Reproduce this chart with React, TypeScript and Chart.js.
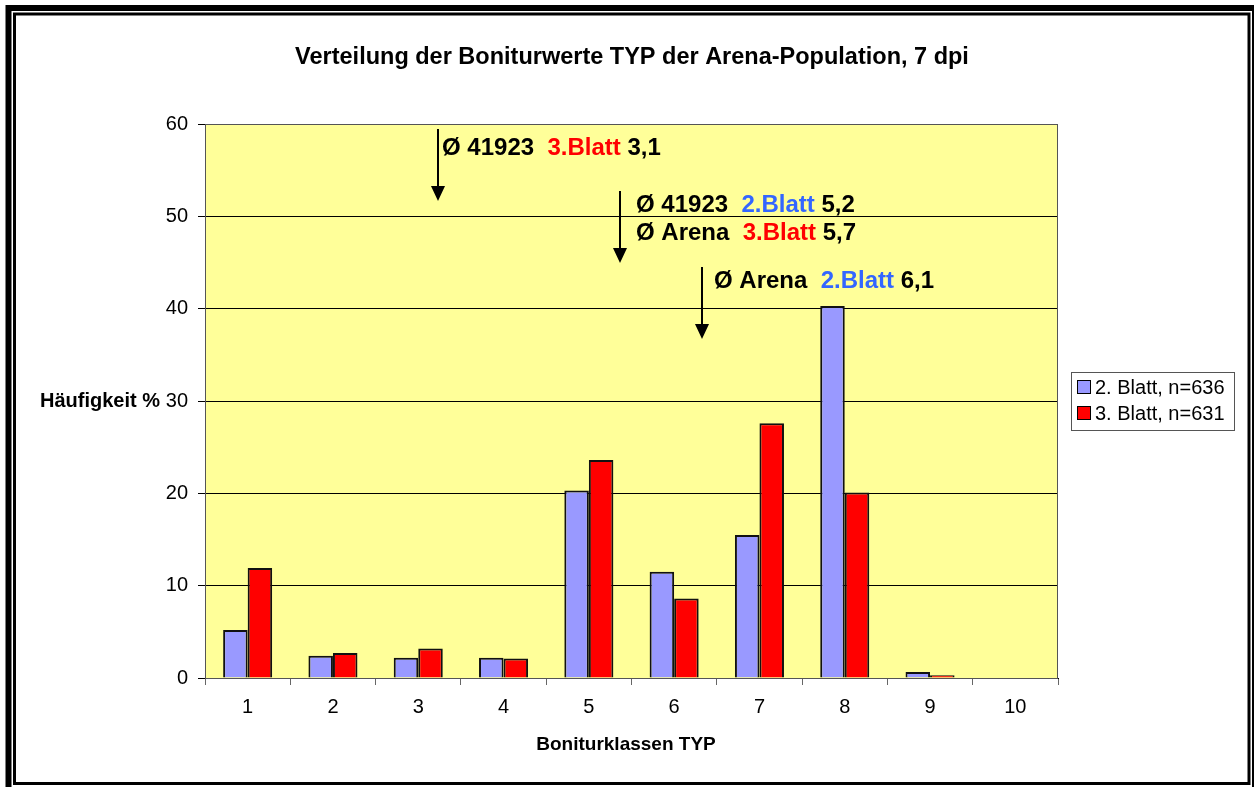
import React, { useEffect, useRef } from "react";
import { Chart, registerables } from "chart.js";
Chart.register(...registerables);

const categories = ["1", "2", "3", "4", "5", "6", "7", "8", "9", "10"];
const blatt2 = [5.2, 2.4, 2.2, 2.2, 20.3, 11.5, 15.5, 40.3, 0.65, 0];
const blatt3 = [11.9, 2.7, 3.2, 2.1, 23.6, 8.6, 27.6, 20.1, 0.3, 0];
const seriesLabels = ["2. Blatt, n=636", "3. Blatt, n=631"];
const seriesColors = ["#9999FF", "#FF0000"];
const yMin = 0;
const yMax = 60;
const yStep = 10;
const titleText = "Verteilung der Boniturwerte TYP der Arena-Population, 7 dpi";
const yTitle = "Häufigkeit %";
const xTitle = "Boniturklassen TYP";

const FONT = '"Liberation Sans", Arial, sans-serif';
const RED = "#FF0000";
const BLUE = "#3366FF";
const BLACK = "#000000";

type Part = [string, string];
const annotations: { x: number; y: number; parts: Part[] }[] = [
  { x: 442, y: 148, parts: [["Ø 41923  ", BLACK], ["3.Blatt", RED], [" 3,1", BLACK]] },
  { x: 636, y: 205, parts: [["Ø 41923  ", BLACK], ["2.Blatt", BLUE], [" 5,2", BLACK]] },
  { x: 636, y: 233, parts: [["Ø Arena  ", BLACK], ["3.Blatt", RED], [" 5,7", BLACK]] },
  { x: 714, y: 281, parts: [["Ø Arena  ", BLACK], ["2.Blatt", BLUE], [" 6,1", BLACK]] },
];
const arrows = [
  { x: 438, y1: 129, y2: 201 },
  { x: 620, y1: 191, y2: 263 },
  { x: 702, y1: 267, y2: 339 },
];

const decorPlugin = {
  id: "decor",
  beforeDraw(chart: any) {
    const { ctx, chartArea } = chart;
    ctx.save();
    ctx.fillStyle = "#FFFFFF";
    ctx.fillRect(0, 0, chart.width, chart.height);
    ctx.fillStyle = "#FFFF99";
    ctx.fillRect(chartArea.left, chartArea.top, chartArea.right - chartArea.left, chartArea.bottom - chartArea.top);
    ctx.restore();
  },
  afterDraw(chart: any) {
    const { ctx, chartArea } = chart;
    ctx.save();
    // plot border
    ctx.strokeStyle = "#555555";
    ctx.lineWidth = 1;
    ctx.strokeRect(chartArea.left + 0.5, chartArea.top + 0.5, chartArea.right - chartArea.left - 1, chartArea.bottom - chartArea.top);

    // title
    ctx.fillStyle = BLACK;
    ctx.textBaseline = "middle";
    ctx.textAlign = "center";
    ctx.font = `bold 23.5px ${FONT}`;
    ctx.fillText(titleText, 632, 58);

    // axis titles
    ctx.font = `bold 19px ${FONT}`;
    ctx.fillText(xTitle, 626, 745);
    ctx.textAlign = "left";
    ctx.font = `bold 20px ${FONT}`;
    ctx.fillText(yTitle, 40, 401);

    // legend
    ctx.strokeStyle = "#555555";
    ctx.lineWidth = 1;
    ctx.fillStyle = "#FFFFFF";
    ctx.fillRect(1071.5, 372.5, 163, 58);
    ctx.strokeRect(1071.5, 372.5, 163, 58);
    ctx.font = `20px ${FONT}`;
    seriesLabels.forEach((lab, i) => {
      const cy = 387 + i * 26;
      ctx.fillStyle = seriesColors[i];
      ctx.fillRect(1078, cy - 6, 12, 12);
      ctx.strokeStyle = BLACK;
      ctx.strokeRect(1077.5, cy - 6.5, 13, 13);
      ctx.fillStyle = BLACK;
      ctx.fillText(lab, 1095, cy + 1);
    });

    // arrows
    ctx.strokeStyle = BLACK;
    ctx.fillStyle = BLACK;
    ctx.lineWidth = 2;
    arrows.forEach((a) => {
      ctx.beginPath();
      ctx.moveTo(a.x, a.y1);
      ctx.lineTo(a.x, a.y2 - 12);
      ctx.stroke();
      ctx.beginPath();
      ctx.moveTo(a.x - 7, a.y2 - 15);
      ctx.lineTo(a.x + 7, a.y2 - 15);
      ctx.lineTo(a.x, a.y2);
      ctx.closePath();
      ctx.fill();
    });

    // annotation texts
    ctx.font = `bold 24px ${FONT}`;
    ctx.textAlign = "left";
    annotations.forEach((an) => {
      let x = an.x;
      an.parts.forEach(([t, c]) => {
        ctx.fillStyle = c;
        ctx.fillText(t, x, an.y);
        x += ctx.measureText(t).width;
      });
    });

    // outer frame
    ctx.strokeStyle = BLACK;
    ctx.lineWidth = 6;
    ctx.strokeRect(8.5, 8, 1246.5, 790);
    ctx.lineWidth = 3;
    ctx.strokeRect(14.5, 14, 1234.5, 769.5);
    ctx.restore();
  },
};

export default function App() {
  const ref = useRef<HTMLCanvasElement | null>(null);
  useEffect(() => {
    if (!ref.current) return;
    const chart = new Chart(ref.current, {
      type: "bar",
      data: {
        labels: categories,
        datasets: [
          {
            label: seriesLabels[0],
            data: blatt2,
            backgroundColor: seriesColors[0],
            borderColor: "#111111",
            borderWidth: 2,
            categoryPercentage: 0.575,
            barPercentage: 1,
          },
          {
            label: seriesLabels[1],
            data: blatt3,
            backgroundColor: seriesColors[1],
            borderColor: "#111111",
            borderWidth: 2,
            categoryPercentage: 0.575,
            barPercentage: 1,
          },
        ],
      },
      options: {
        responsive: false,
        animation: false,
        layout: { padding: { top: 124, right: 196, left: 0, bottom: 0 } },
        plugins: { legend: { display: false }, title: { display: false }, tooltip: { enabled: false } },
        scales: {
          x: {
            offset: true,
            grid: { display: true, drawOnChartArea: false, drawTicks: true, tickLength: 7, color: "#666666", offset: true },
            border: { display: true, color: "#000000" },
            ticks: { color: "#000000", font: { family: FONT, size: 20 }, padding: 10, maxRotation: 0 },
            afterFit: (s: any) => { s.height = 109; },
          },
          y: {
            min: yMin,
            max: yMax,
            ticks: { stepSize: yStep, color: "#000000", font: { family: FONT, size: 20 }, padding: 10 },
            grid: { color: "#000000", lineWidth: 1, tickLength: 7, drawTicks: true },
            border: { display: true, color: "#000000" },
            afterFit: (s: any) => { s.width = 205; },
          },
        },
      },
      plugins: [decorPlugin],
    });
    return () => chart.destroy();
  }, []);
  return (
    <div style={{ position: "absolute", left: 0, top: 0, width: 1254, height: 787, background: "#fff" }}>
      <canvas ref={ref} width={1254} height={787} style={{ display: "block" }} />
    </div>
  );
}
